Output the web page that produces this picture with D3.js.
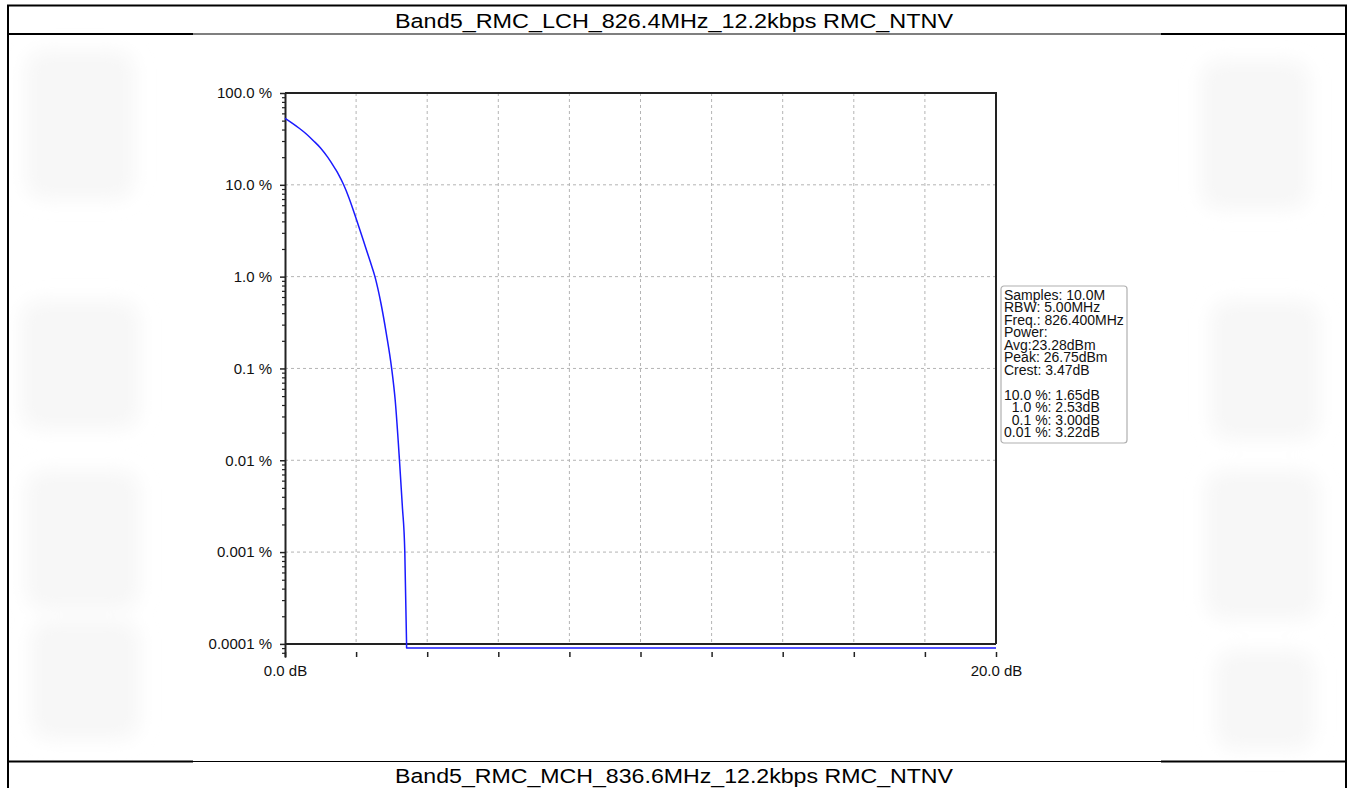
<!DOCTYPE html>
<html>
<head>
<meta charset="utf-8">
<script src="https://cdn.jsdelivr.net/npm/d3@7"></script>
<style>
  body { margin: 0; background: #fff; }
  svg { display: block; font-family: "Liberation Sans", Arial, sans-serif; }
  .grid line { stroke: #b4b4b4; stroke-dasharray: 3,3; stroke-width: 1; }
  .axis path, .axis line { stroke: #222; }
  .axis text { fill: #111; font-size: 15px; font-family: "Liberation Sans", Arial, sans-serif; }
</style>
</head>
<body>
<div id="chart"></div>
<script>
// CCDF data (dB above average vs probability %)
var dbValues  = [0, 0.2, 0.4, 0.6, 0.8, 1.0, 1.2, 1.4, 1.5, 1.65, 1.8, 2.0, 2.2, 2.4, 2.53, 2.7, 2.85, 3.0, 3.1, 3.22, 3.3, 3.37, 3.42];
var pctValues = [53, 47, 41.3, 35.8, 30.2, 25.2, 20, 15.2, 13.1, 10, 7.2, 4.3, 2.5, 1.45, 1.0, 0.51, 0.24, 0.1, 0.045, 0.01, 0.0032, 0.001, 0.0001];
// floor the trace sits on once nothing is left (just below 0.0001 %)
var floorDb  = [3.42, 3.42, 20];
var floorPct = [0.0001, 0.00009, 0.00009];

var yTickValues = [100, 10, 1, 0.1, 0.01, 0.001, 0.0001];
var yTickLabels = ["100.0 %", "10.0 %", "1.0 %", "0.1 %", "0.01 %", "0.001 %", "0.0001 %"];
var xTickValues = [0, 2, 4, 6, 8, 10, 12, 14, 16, 18, 20];
var xTickLabels = {0: "0.0 dB", 20: "20.0 dB"};

var infoLines = [
  "Samples: 10.0M",
  "RBW: 5.00MHz",
  "Freq.: 826.400MHz",
  "Power:",
  "Avg:23.28dBm",
  "Peak: 26.75dBm",
  "Crest: 3.47dB",
  "",
  "10.0 %: 1.65dB",
  "  1.0 %: 2.53dB",
  "  0.1 %: 3.00dB",
  "0.01 %: 3.22dB"
];

var titleTop = "Band5_RMC_LCH_826.4MHz_12.2kbps RMC_NTNV";
var titleBottom = "Band5_RMC_MCH_836.6MHz_12.2kbps RMC_NTNV";

var W = 1350, H = 788;
var svg = d3.select("#chart").append("svg").attr("width", W).attr("height", H);

// very faint watermark blobs around the embedded chart picture
var defs = svg.append("defs");
defs.append("filter").attr("id", "blur").append("feGaussianBlur").attr("stdDeviation", 9);
var wm = svg.append("g").attr("filter", "url(#blur)").attr("fill", "#f7f7f7");
[[25, 50, 110, 150], [20, 300, 120, 130], [25, 470, 115, 140], [30, 620, 110, 120],
 [1200, 60, 110, 150], [1210, 300, 110, 140], [1205, 470, 115, 150], [1215, 650, 100, 100]]
  .forEach(function(b) {
    wm.append("rect").attr("x", b[0]).attr("y", b[1]).attr("width", b[2]).attr("height", b[3]).attr("rx", 20);
  });

// table frame
var frame = svg.append("g").attr("stroke", "#000");
frame.append("line").attr("x1", 8).attr("x2", 8).attr("y1", 5).attr("y2", H).attr("stroke-width", 2);
frame.append("line").attr("x1", 1346).attr("x2", 1346).attr("y1", 5).attr("y2", H).attr("stroke-width", 2);
frame.append("line").attr("x1", 7).attr("x2", 1347).attr("y1", 5.5).attr("y2", 5.5).attr("stroke-width", 2);
[34, 761.5].forEach(function(yy) {
  frame.append("line").attr("x1", 8).attr("x2", 193).attr("y1", yy).attr("y2", yy).attr("stroke-width", 2);
  frame.append("line").attr("x1", 193).attr("x2", 1161).attr("y1", yy).attr("y2", yy).attr("stroke-width", 1.2);
  frame.append("line").attr("x1", 1161).attr("x2", 1346).attr("y1", yy).attr("y2", yy).attr("stroke-width", 2);
});

svg.append("text").attr("x", 674).attr("y", 28).attr("text-anchor", "middle")
  .attr("font-size", 20.5).attr("fill", "#000")
  .attr("textLength", 558).attr("lengthAdjust", "spacingAndGlyphs").text(titleTop);
svg.append("text").attr("x", 674).attr("y", 783).attr("text-anchor", "middle")
  .attr("font-size", 20.5).attr("fill", "#000")
  .attr("textLength", 558).attr("lengthAdjust", "spacingAndGlyphs").text(titleBottom);

// scales
var x = d3.scaleLinear().domain([0, 20]).range([285, 996]);
var y = d3.scaleLog().domain([7.2e-5, 100]).range([657, 93]);

// gridlines
var grid = svg.append("g").attr("class", "grid");
grid.selectAll(".vg").data(xTickValues.slice(1, -1)).enter().append("line")
  .attr("x1", function(d) { return x(d); }).attr("x2", function(d) { return x(d); })
  .attr("y1", y(100)).attr("y2", y(0.0001));
grid.selectAll(".hg").data(yTickValues.slice(1, -1)).enter().append("line")
  .attr("x1", x(0)).attr("x2", x(20))
  .attr("y1", function(d) { return y(d); }).attr("y2", function(d) { return y(d); });

// minor ticks on the log axis
var minor = [];
for (var e = -5; e < 2; e++) {
  for (var m = 2; m <= 9; m++) {
    var v = m * Math.pow(10, e);
    if (v >= 7.2e-5 && v <= 100) minor.push(+v.toPrecision(3));
  }
}
svg.append("g").attr("class", "axis").attr("transform", "translate(" + x(0) + ",0)")
  .call(d3.axisLeft(y).tickValues(minor).tickSize(3).tickSizeOuter(0).tickFormat(""))
  .selectAll("line").attr("stroke-width", 1.2);

// major y axis
var yAxis = svg.append("g").attr("class", "axis").attr("transform", "translate(" + x(0) + ",0)")
  .call(d3.axisLeft(y).tickValues(yTickValues).tickSize(5).tickSizeOuter(0).tickPadding(8)
    .tickFormat(function(d, i) { return yTickLabels[i]; }));
yAxis.select(".domain").attr("stroke-width", 2);
yAxis.selectAll("line").attr("stroke-width", 1.5);

// x axis, offset below the frame, labels only at both ends
var xAxis = svg.append("g").attr("class", "axis").attr("transform", "translate(0,652)")
  .call(d3.axisBottom(x).tickValues(xTickValues).tickSize(5).tickPadding(8)
    .tickFormat(function(d) { return xTickLabels[d] || ""; }));
xAxis.select(".domain").remove();
xAxis.selectAll("line").attr("stroke-width", 1.5);

// frame: top, right, and the 0.0001 % base line
var box = svg.append("g").attr("stroke", "#222").attr("stroke-width", 2).attr("fill", "none");
box.append("path").attr("d", "M" + x(0) + "," + y(100) + "H" + x(20) + "V" + y(0.0001));
box.append("line").attr("x1", x(0)).attr("x2", x(20)).attr("y1", y(0.0001)).attr("y2", y(0.0001));

// CCDF curve
var pts = dbValues.map(function(d, i) { return [d, pctValues[i]]; });
var floorPts = floorDb.map(function(d, i) { return [d, floorPct[i]]; });
var curve = d3.line()
  .x(function(d) { return x(d[0]); })
  .y(function(d) { return y(d[1]); })
  .curve(d3.curveMonotoneX);
var straight = d3.line()
  .x(function(d) { return x(d[0]); })
  .y(function(d) { return y(d[1]); });
svg.append("path").datum(pts)
  .attr("fill", "none").attr("stroke", "#1a1aff").attr("stroke-width", 1.5)
  .attr("stroke-linejoin", "round").attr("d", curve);
svg.append("path").datum(floorPts)
  .attr("fill", "none").attr("stroke", "#1a1aff").attr("stroke-width", 1.5)
  .attr("stroke-linejoin", "round").attr("d", straight);

// info box
var info = svg.append("g").attr("transform", "translate(1001,286)");
info.append("rect").attr("width", 126).attr("height", 157).attr("rx", 3)
  .attr("fill", "#fff").attr("stroke", "#b0b0b0").attr("stroke-width", 1.2);
info.selectAll("text").data(infoLines).enter().append("text")
  .attr("x", 3).attr("y", function(d, i) { return 13.5 + i * 12.5; })
  .attr("font-size", 14).attr("fill", "#111")
  .style("white-space", "pre")
  .text(function(d) { return d; });
</script>
</body>
</html>
